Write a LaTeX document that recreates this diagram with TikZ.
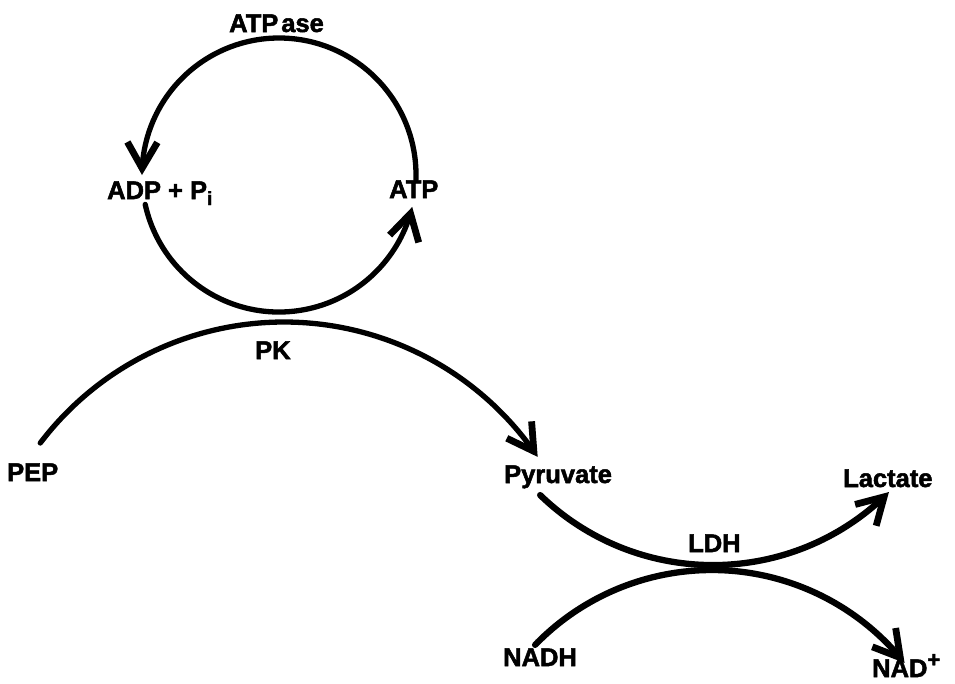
\documentclass[tikz,border=0pt]{standalone}
\usepackage{fontspec}
\setmainfont{Liberation Sans}[BoldFeatures={FakeBold=2}]
\usetikzlibrary{arrows.meta,bending}
\begin{document}
\begin{tikzpicture}[x=1pt,y=-1pt,
  lbl/.style={font=\fontsize{25.5}{25.5}\selectfont\bfseries, inner sep=0pt, anchor=base west},
  barb/.tip={Straight Barb[length=26pt,width=30pt,line width=6.8pt]},
  flow/.style={line width=5.3pt, line cap=round, -barb},
  thickflow/.style={line width=6.3pt, line cap=round, -barb}]
\useasboundingbox[fill=white] (0,0) rectangle (955,683);

% labels
\node[lbl] (atpase) at (229,32) {ATP\kern3pt ase};
\node[lbl] (adp) at (107,199) {ADP + P\raisebox{-6pt}{\fontsize{19}{19}\selectfont i}};
\node[lbl] (atp) at (389,198) {ATP};
\node[lbl] (pk) at (255,359) {PK};
\node[lbl] (pep) at (7,481) {PEP};
\node[lbl] (pyr) at (504,483) {Pyruvate};
\node[lbl] (lac) at (843,487) {Lactate};
\node[lbl] (ldh) at (688,552) {LDH};
\node[lbl] (nadh) at (503,666) {NADH};
\node[lbl] (nad) at (872,677) {NAD\raisebox{10pt}{\fontsize{22}{22}\selectfont +}};

% centres of the circular arcs
\coordinate (cyc) at (279,175);
\coordinate (pkc) at (284,628);
\coordinate (ldhup) at (713,316.7);
\coordinate (ldhlo) at (711.9,816.2);

% ATP / ADP cycle
\draw[flow] ([shift={(2:137)}]cyc) arc[start angle=2, end angle=-180, radius=137];
\draw[flow] ([shift={(167.6:137)}]cyc) arc[start angle=167.6, end angle=13.5, radius=137];

% PEP -> pyruvate (PK)
\draw[flow] ([shift={(217.2:306)}]pkc) arc[start angle=217.2, end angle=326, radius=306];

% pyruvate -> lactate and NADH -> NAD+ (LDH)
\draw[thickflow] ([shift={(134.1:248.4)}]ldhup) arc[start angle=134.1, end angle=44.9, radius=248.4];
\draw[thickflow] ([shift={(224.1:246.2)}]ldhlo) arc[start angle=224.1, end angle=321.5, radius=246.2];
\end{tikzpicture}
\end{document}
